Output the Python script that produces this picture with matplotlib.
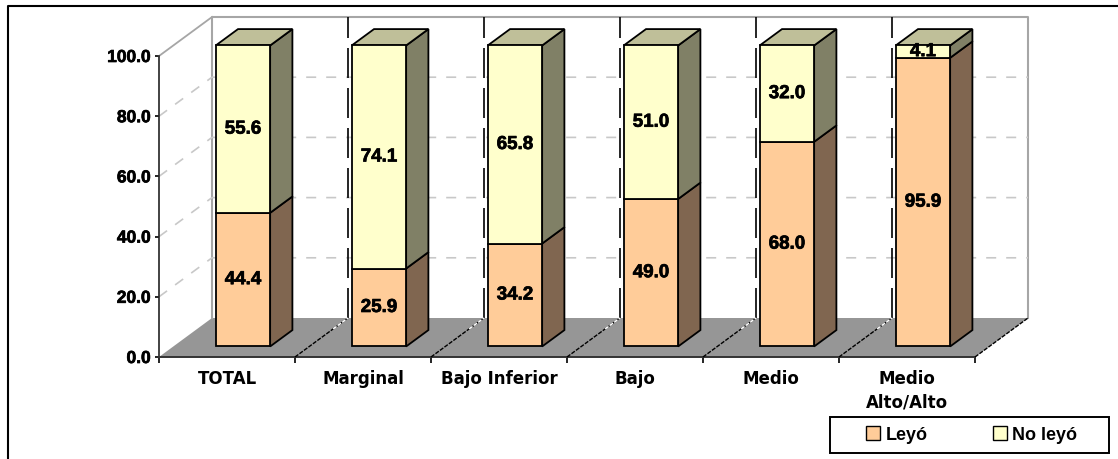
import matplotlib
matplotlib.use('Agg')
import matplotlib.pyplot as plt
import matplotlib.patheffects as pe
from matplotlib.lines import Line2D
from matplotlib.patches import Patch, Polygon, Rectangle

W, H = 1118, 459

categories = ['TOTAL', 'Marginal', 'Bajo Inferior', 'Bajo', 'Medio', 'Medio\nAlto/Alto']
leyo = [44.4, 25.9, 34.2, 49.0, 68.0, 95.9]
no_leyo = [55.6, 74.1, 65.8, 51.0, 32.0, 4.1]
y_ticks = [0, 20, 40, 60, 80, 100]

# oblique projection: full depth in data units
DX = 53 / 136
DY = 39 / 3.01
D0, D1 = 0.27, 0.69
BAR_W = 0.40
BAR_SHIFT = 0.012

LOW = ('#FFCC99', '#806650', '#BFBF99')
HIGH = ('#FFFFCC', '#808066', '#BFBF99')

HEAVY = [pe.withStroke(linewidth=0.5, foreground='black')]


def proj(x, y, d):
    return (x + d * DX, y + d * DY)


def box(ax, x0, x1, y0, y1, cols, top=False):
    lw = 1.3
    front = [proj(x0, y0, D0), proj(x1, y0, D0), proj(x1, y1, D0), proj(x0, y1, D0)]
    side = [proj(x1, y0, D0), proj(x1, y0, D1), proj(x1, y1, D1), proj(x1, y1, D0)]
    ax.add_patch(Polygon(side, fc=cols[1], ec='black', lw=lw, clip_on=False, zorder=4))
    if top:
        lid = [proj(x0, y1, D0), proj(x1, y1, D0), proj(x1, y1, D1), proj(x0, y1, D1)]
        ax.add_patch(Polygon(lid, fc=cols[2], ec='black', lw=lw, clip_on=False, zorder=4))
    ax.add_patch(Polygon(front, fc=cols[0], ec='black', lw=lw, clip_on=False, zorder=5))


def value_label(ax, x, y, val):
    cx, cy = proj(x, y, D0)
    ax.text(cx, cy, f'{val:.1f}', ha='center', va='center', fontsize=13.5,
            fontweight='bold', family='Liberation Sans', zorder=6, path_effects=HEAVY)


fig = plt.figure(figsize=(W / 100, H / 100), dpi=100)
ax = fig.add_axes([159 / W, 1 - 357 / H, 816 / W, 301 / H])
ax.patch.set_visible(False)
n = len(categories)
ax.set_xlim(0, n)
ax.set_ylim(0, 100)

# outer frame of the picture
fig.add_artist(Line2D([7.5 / W, 7.5 / W, 1], [0, 1 - 6 / H, 1 - 6 / H], color='black', lw=1.5))

# floor
floor = [proj(0, 0, 0), proj(n, 0, 0), proj(n, 0, 1), proj(0, 0, 1)]
ax.add_patch(Polygon(floor, fc='#969696', ec='none', clip_on=False, zorder=1))

# walls
wall_c = '#A6A6A6'
xs = [proj(0, 0, 1)[0], proj(0, 100, 1)[0], proj(n, 100, 1)[0], proj(n, 0, 1)[0]]
ys = [proj(0, 0, 1)[1], proj(0, 100, 1)[1], proj(n, 100, 1)[1], proj(n, 0, 1)[1]]
ax.plot(xs, ys, color=wall_c, lw=1.5, clip_on=False, zorder=2)
a, b = proj(0, 100, 0), proj(0, 100, 1)
ax.plot([a[0], b[0]], [a[1], b[1]], color=wall_c, lw=1.3, clip_on=False, zorder=2)

# gridlines
for t in y_ticks[1:-1]:
    a, b, c = proj(0, t, 0), proj(0, t, 1), proj(n, t, 1)
    ax.plot([a[0], b[0], c[0]], [a[1], b[1], c[1]], color='#C8C8C8', lw=1.2,
            dashes=(6, 6), clip_on=False, zorder=2)

# category dividers on the wall and floor
for i in range(1, n):
    a, b = proj(i, 0, 1), proj(i, 100, 1)
    ax.plot([a[0], b[0]], [a[1], b[1]], color='black', lw=1.2, dashes=(18, 6),
            clip_on=False, zorder=3)
for i in range(1, n + 1):
    a, b = proj(i, 0, 0), proj(i, 0, 1)
    ax.plot([a[0], b[0]], [a[1], b[1]], color='black', lw=1.0, dashes=(3, 1),
            clip_on=False, zorder=3)
    if i < n:
        m = proj(i, 0, 0.72)
        ax.plot([m[0], b[0]], [m[1], b[1]], color='white', lw=1.0, dashes=(3, 1),
                clip_on=False, zorder=3)

# bars
for i, (lo, hi) in enumerate(zip(leyo, no_leyo)):
    mid = i + 0.5 + BAR_SHIFT
    box(ax, mid - BAR_W / 2, mid + BAR_W / 2, 0, lo, LOW)
    box(ax, mid - BAR_W / 2, mid + BAR_W / 2, lo, lo + hi, HIGH, top=True)
    value_label(ax, mid, lo / 2, lo)
    value_label(ax, mid, lo + hi / 2, hi)

# axes
for s in ('top', 'right'):
    ax.spines[s].set_visible(False)
ax.spines['left'].set_color('#222222')
ax.spines['bottom'].set_color('#333333')
ax.spines['left'].set_linewidth(1.2)
ax.spines['bottom'].set_linewidth(1.4)
ax.set_yticks(y_ticks)
ax.set_yticklabels([f'{t:.1f}' for t in y_ticks], fontsize=12.5, fontweight='bold',
                   family='Liberation Sans', path_effects=HEAVY)
ax.tick_params(axis='y', length=3, width=1.2, pad=3)
ax.set_xticks(range(n + 1))
ax.set_xticklabels([])
ax.tick_params(axis='x', which='major', length=4, width=1.2)
ax.set_xticks([i + 0.5 for i in range(n)], minor=True)
ax.set_xticklabels(categories, minor=True, fontsize=12, fontweight='bold',
                   family='DejaVu Sans', linespacing=1.45)
ax.tick_params(axis='x', which='minor', length=0, pad=9)

# legend
fig.add_artist(Rectangle((830 / W, 1 - 453 / H), 279 / W, 36 / H, fc='white', ec='black',
                         lw=1.4, transform=fig.transFigure))
handles = [Patch(fc=LOW[0], ec='black', lw=1), Patch(fc=HIGH[0], ec='black', lw=1)]
fig.legend(handles, ['Leyó', 'No leyó'], ncols=2, loc='center left',
           bbox_to_anchor=(866 / W, 1 - 435 / H), frameon=False, borderpad=0,
           borderaxespad=0, handlelength=0.78, handleheight=0.78, handletextpad=0.3,
           columnspacing=3.6,
           prop={'family': 'Liberation Sans', 'weight': 'bold', 'size': 13})

fig.savefig('out.png', dpi=100)
